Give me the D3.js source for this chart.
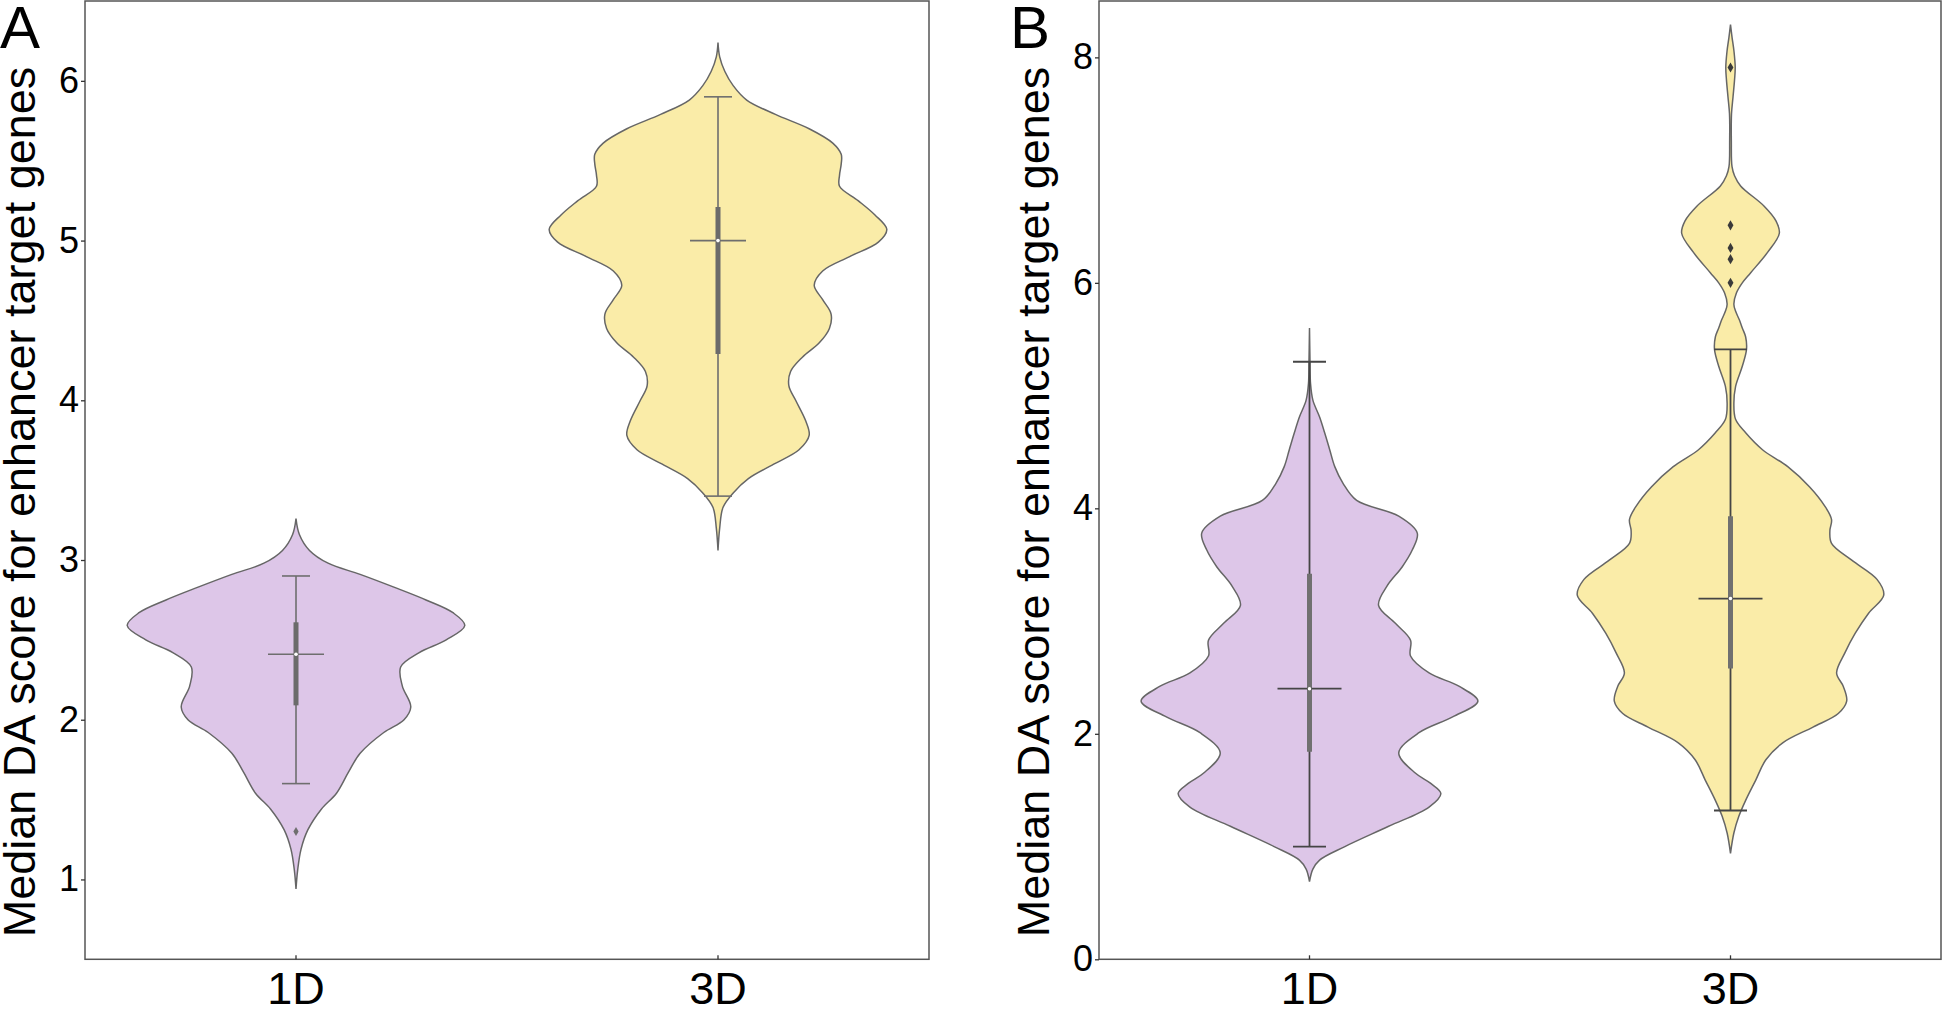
<!DOCTYPE html>
<html>
<head>
<meta charset="utf-8">
<script src="https://cdn.jsdelivr.net/npm/d3@7"></script>
<style>
  body { margin: 0; background: #fff; }
  svg { display: block; font-family: 'Liberation Sans', Arial, sans-serif; }
</style>
</head>
<body>
<svg id="chart" width="1944" height="1010"></svg>
<script>
const categories = ['1D', '3D'];
const ticksA = [1, 2, 3, 4, 5, 6];
const ticksB = [0, 2, 4, 6, 8];
const yTitle = 'Median DA score for enhancer target genes';
const panelLabels = ['A', 'B'];

// violin outlines: [value, relative density]
const densityA1D = [[0.94, 0], [1.06, 0.01], [1.19, 0.03], [1.31, 0.07], [1.44, 0.15], [1.54, 0.24],
  [1.67, 0.31], [1.79, 0.38], [1.92, 0.52], [2.00, 0.64], [2.08, 0.68], [2.21, 0.63], [2.33, 0.62],
  [2.42, 0.73], [2.50, 0.89], [2.59, 1.0], [2.67, 0.93], [2.75, 0.77], [2.83, 0.58], [2.91, 0.38],
  [2.98, 0.19], [3.06, 0.08], [3.16, 0.02], [3.26, 0]];
const densityA3D = [[3.06, 0], [3.20, 0.01], [3.33, 0.03], [3.42, 0.09], [3.51, 0.18], [3.60, 0.33],
  [3.69, 0.48], [3.78, 0.54], [3.87, 0.52], [4.00, 0.46], [4.09, 0.42], [4.18, 0.43], [4.27, 0.50],
  [4.36, 0.60], [4.45, 0.66], [4.54, 0.67], [4.63, 0.62], [4.72, 0.57], [4.81, 0.62], [4.90, 0.78],
  [4.99, 0.95], [5.07, 1.0], [5.16, 0.93], [5.25, 0.83], [5.34, 0.72], [5.41, 0.72], [5.48, 0.73],
  [5.54, 0.73], [5.61, 0.68], [5.70, 0.54], [5.79, 0.34], [5.88, 0.17], [5.97, 0.09], [6.06, 0.04],
  [6.15, 0.01], [6.24, 0]];
const densityB1D = [[0.69, 0], [0.80, 0.02], [0.88, 0.06], [1.00, 0.21], [1.18, 0.47], [1.35, 0.71],
  [1.47, 0.78], [1.56, 0.72], [1.65, 0.63], [1.83, 0.53], [2.01, 0.65], [2.15, 0.85], [2.29, 1.0],
  [2.42, 0.89], [2.54, 0.71], [2.69, 0.60], [2.83, 0.60], [2.98, 0.51], [3.14, 0.41], [3.31, 0.46],
  [3.48, 0.55], [3.63, 0.61], [3.78, 0.64], [3.93, 0.53], [4.07, 0.28], [4.22, 0.20], [4.37, 0.15],
  [4.52, 0.12], [4.67, 0.09], [4.81, 0.06], [4.96, 0.02], [5.11, 0.006], [5.30, 0.003], [5.60, 0]];
const densityB3D = [[0.94, 0], [1.12, 0.02], [1.27, 0.05], [1.41, 0.09], [1.59, 0.15], [1.77, 0.21],
  [1.92, 0.31], [2.06, 0.49], [2.18, 0.64], [2.29, 0.69], [2.42, 0.67], [2.54, 0.63], [2.72, 0.68],
  [2.89, 0.74], [3.07, 0.82], [3.23, 0.91], [3.37, 0.87], [3.54, 0.72], [3.69, 0.60], [3.80, 0.59],
  [3.90, 0.60], [4.02, 0.56], [4.19, 0.47], [4.37, 0.34], [4.52, 0.19], [4.67, 0.09], [4.79, 0.03],
  [4.93, 0.02], [5.08, 0.03], [5.26, 0.07], [5.41, 0.095], [5.52, 0.09], [5.60, 0.07], [5.67, 0.053],
  [5.75, 0.03], [5.81, 0.02], [5.91, 0.035], [6.00, 0.07], [6.09, 0.12], [6.27, 0.22], [6.44, 0.29],
  [6.55, 0.27], [6.68, 0.20], [6.86, 0.06], [6.95, 0.024], [7.03, 0.009], [7.25, 0.005], [7.50, 0.006],
  [7.65, 0.015], [7.80, 0.024], [7.91, 0.028], [8.05, 0.021], [8.18, 0.009], [8.29, 0]];

// box stats: [lower whisker, q1, median, q3, upper whisker]
const boxA1D = [1.60, 2.09, 2.41, 2.61, 2.90];
const boxA3D = [3.40, 4.29, 5.00, 5.21, 5.90];
const boxB1D = [1.00, 1.84, 2.40, 3.42, 5.30];
const boxB3D = [1.32, 2.58, 3.20, 3.93, 5.41];

const outliersA1D = [1.30];
const outliersA3D = [];
const outliersB1D = [];
const outliersB3D = [6.00, 6.21, 6.31, 6.51, 7.91];

const fills = ['#ddc6e8', '#faeca8'];

const svg = d3.select('#chart');

const panels = [
  {
    label: panelLabels[0], labelX: 0, titleX: 35,
    left: 85, right: 929, top: 1, bottom: 959.3,
    domain: [0.5, 6.5], ticks: ticksA,
    violins: [
      { density: densityA1D, box: boxA1D, outliers: outliersA1D },
      { density: densityA3D, box: boxA3D, outliers: outliersA3D }
    ],
    whisker: '#6e6e6e', whiskerWidth: 1.6, boxColor: '#6b6b6b', outlier: '#6e6e6e', outlierSize: 24,
    medianHalf: 28, capHalf: 14
  },
  {
    label: panelLabels[1], labelX: 1010, titleX: 1049,
    left: 1099, right: 1941, top: 1, bottom: 959.3,
    domain: [0, 8.5], ticks: ticksB,
    violins: [
      { density: densityB1D, box: boxB1D, outliers: outliersB1D },
      { density: densityB3D, box: boxB3D, outliers: outliersB3D }
    ],
    whisker: '#454545', whiskerWidth: 1.8, boxColor: '#707070', outlier: '#3a3a3a', outlierSize: 30,
    medianHalf: 32, capHalf: 16.5
  }
];

panels.forEach(p => drawPanel(p));

function drawPanel(p) {
  const g = svg.append('g');

  const x = d3.scaleBand()
    .domain(categories)
    .range([p.left, p.right])
    .padding(0);

  const y = d3.scaleLinear()
    .domain(p.domain)
    .range([p.bottom, p.top]);

  // widest violin spans 80% of its band
  const w = d3.scaleLinear()
    .domain([0, 1])
    .range([0, x.bandwidth() * 0.4]);

  p.violins.forEach((v, i) => {
    const cx = x(categories[i]) + x.bandwidth() / 2;

    const area = d3.area()
      .curve(d3.curveCatmullRom.alpha(0.5))
      .y(d => y(d[0]))
      .x0(d => cx - w(d[1]))
      .x1(d => cx + w(d[1]));

    g.append('path')
      .datum(v.density)
      .attr('d', area)
      .attr('fill', fills[i])
      .attr('stroke', '#666')
      .attr('stroke-width', 1.5);

    const [lo, q1, med, q3, hi] = v.box;

    // whisker line and caps
    g.append('line')
      .attr('x1', cx).attr('x2', cx)
      .attr('y1', y(lo)).attr('y2', y(hi))
      .attr('stroke', p.whisker)
      .attr('stroke-width', p.whiskerWidth);

    g.selectAll('caps')
      .data([lo, hi])
      .enter()
      .append('line')
      .attr('x1', cx - p.capHalf).attr('x2', cx + p.capHalf)
      .attr('y1', d => y(d)).attr('y2', d => y(d))
      .attr('stroke', p.whisker)
      .attr('stroke-width', p.whiskerWidth);

    // inner box
    g.append('line')
      .attr('x1', cx).attr('x2', cx)
      .attr('y1', y(q1)).attr('y2', y(q3))
      .attr('stroke', p.boxColor)
      .attr('stroke-width', 5);

    // median bar and dot
    g.append('line')
      .attr('x1', cx - p.medianHalf).attr('x2', cx + p.medianHalf)
      .attr('y1', y(med)).attr('y2', y(med))
      .attr('stroke', p.whisker)
      .attr('stroke-width', p.whiskerWidth);

    g.append('circle')
      .attr('cx', cx)
      .attr('cy', y(med))
      .attr('r', 1.8)
      .attr('fill', '#fff');

    g.selectAll('outliers')
      .data(v.outliers)
      .enter()
      .append('path')
      .attr('d', d3.symbol(d3.symbolDiamond, p.outlierSize))
      .attr('transform', d => 'translate(' + cx + ',' + y(d) + ')')
      .attr('fill', p.outlier);
  });

  // frame
  g.append('rect')
    .attr('x', p.left)
    .attr('y', p.top)
    .attr('width', p.right - p.left)
    .attr('height', p.bottom - p.top)
    .attr('fill', 'none')
    .attr('stroke', '#555')
    .attr('stroke-width', 1.5);

  const yAxis = g.append('g')
    .attr('transform', 'translate(' + p.left + ',0)')
    .call(d3.axisLeft(y).tickValues(p.ticks).tickFormat(d3.format('d')).tickSize(4).tickPadding(2));
  yAxis.select('.domain').remove();
  yAxis.selectAll('line').attr('stroke', '#333').attr('stroke-width', 1.3);
  yAxis.selectAll('text')
    .attr('font-size', 36)
    .attr('font-family', "'Liberation Sans', Arial, sans-serif")
    .attr('fill', '#000');

  const xAxis = g.append('g')
    .attr('transform', 'translate(0,' + p.bottom + ')')
    .call(d3.axisBottom(x).tickSize(-4).tickPadding(13));
  xAxis.select('.domain').remove();
  xAxis.selectAll('line').attr('stroke', '#333').attr('stroke-width', 1.3);
  xAxis.selectAll('text')
    .attr('font-size', 45)
    .attr('font-family', "'Liberation Sans', Arial, sans-serif")
    .attr('fill', '#000');

  // axis title, centred a bit below the plot middle as in the figure
  g.append('text')
    .attr('transform', 'translate(' + p.titleX + ',502)rotate(-90)')
    .attr('text-anchor', 'middle')
    .attr('font-size', 45)
    .attr('fill', '#000')
    .text(yTitle);

  // panel letter
  g.append('text')
    .attr('x', p.labelX)
    .attr('y', 48)
    .attr('font-size', 60)
    .attr('fill', '#000')
    .text(p.label);
}
</script>
</body>
</html>
